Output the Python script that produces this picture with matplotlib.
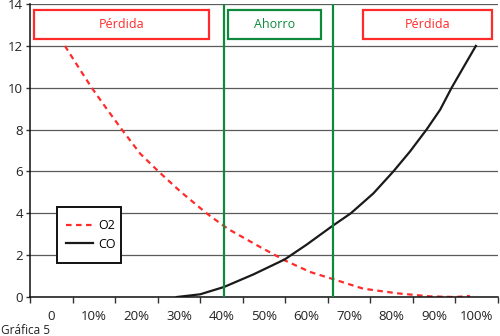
import numpy as np
import matplotlib.pyplot as plt
from matplotlib.patches import Rectangle
from matplotlib.ticker import FixedLocator

plt.rcParams['font.family'] = ['Open Sans', 'DejaVu Sans']

# categories on the x axis (0..100 %)
categories = ['0', '10%', '20%', '30%', '40%', '50%', '60%', '70%', '80%', '90%', '100%']

# O2 curve (x in category units, 0 = first category)
o2_x = [0.32, 0.68, 0.95, 1.3, 1.66, 2.09, 2.52, 3.03, 3.65, 4.06, 4.2, 4.9, 5.49, 6.08,
        6.71, 7.33, 8.12, 8.9, 9.49, 9.84]
o2_y = [12.0, 10.85, 10.0, 9.0, 8.0, 6.85, 6.0, 5.05, 4.0, 3.39, 3.2, 2.4, 1.75, 1.2,
        0.8, 0.4, 0.18, 0.03, 0.0, 0.05]

# CO curve
co_x = [2.95, 3.5, 4.06, 4.75, 5.49, 6.0, 6.59, 7.04, 7.57, 8.04, 8.43, 8.82, 9.14, 9.41, 9.68, 9.98]
co_y = [0.0, 0.13, 0.48, 1.08, 1.8, 2.5, 3.37, 4.0, 4.95, 6.0, 6.95, 8.0, 8.95, 10.0, 10.95, 12.0]

# zone limits
limits = [4.06, 6.63]

red = '#ff2a2a'
green = '#0f8a3c'

fig = plt.figure(figsize=(5, 3.36), dpi=100)
ax = fig.add_axes([0.06, 0.116, 0.936, 0.872])

ax.plot(o2_x, o2_y, color=red, lw=1.6, ls=(0, (2.5, 2)), label='O2')
ax.plot(co_x, co_y, color='#1a1a1a', lw=1.6, label='CO')

for xl in limits:
    ax.axvline(xl, color=green, lw=1.6, zorder=3)

ax.set_xlim(-0.5, 10.5)
ax.set_ylim(0, 14)
ax.set_yticks(np.arange(0, 15, 2))
ax.set_xticks(range(len(categories)))
ax.set_xticklabels(categories)
ax.xaxis.set_minor_locator(FixedLocator(np.arange(-0.5, 11, 1)))
ax.tick_params(axis='x', which='major', length=0, pad=9, labelsize=9.5, colors='#222222')
ax.tick_params(axis='x', which='minor', length=4, width=1, color='#333333')
ax.tick_params(axis='y', length=3, width=1, color='#333333', labelsize=9.5, labelcolor='#222222', pad=2)
ax.grid(axis='y', color='#5a5a5a', lw=0.9)
ax.set_axisbelow(True)

for s in ['top', 'right']:
    ax.spines[s].set_visible(False)
ax.spines['left'].set_color('#111111')
ax.spines['bottom'].set_color('#111111')
ax.spines['left'].set_linewidth(1.1)
ax.spines['bottom'].set_linewidth(1.1)

# zone boxes
boxes = [(-0.4, 3.71, 'Pérdida', red), (4.16, 6.33, 'Ahorro', green), (7.33, 10.36, 'Pérdida', red)]
for x0, x1, txt, c in boxes:
    ax.add_patch(Rectangle((x0, 12.31), x1 - x0, 1.39, fill=True, facecolor='white',
                           edgecolor=c, lw=1.6, zorder=4))
    ax.text((x0 + x1) / 2, 13.0, txt, color=c, ha='center', va='center', fontsize=9, zorder=5)

# legend with a hand-drawn frame
ax.add_patch(Rectangle((0.058, 0.117), 0.136, 0.191, transform=ax.transAxes, facecolor='white',
                       edgecolor='#111111', lw=1.4, zorder=5))
leg = ax.legend(loc='center left', bbox_to_anchor=(0.058, 0.2125), fontsize=9, frameon=False,
                handlelength=2.2, borderpad=0.2, labelspacing=0.45, handletextpad=0.35)
leg.set_zorder(6)

fig.text(0.002, 0.006, 'Gráfica 5', fontsize=8.5, color='#222222')

fig.savefig('out.png', dpi=100)
